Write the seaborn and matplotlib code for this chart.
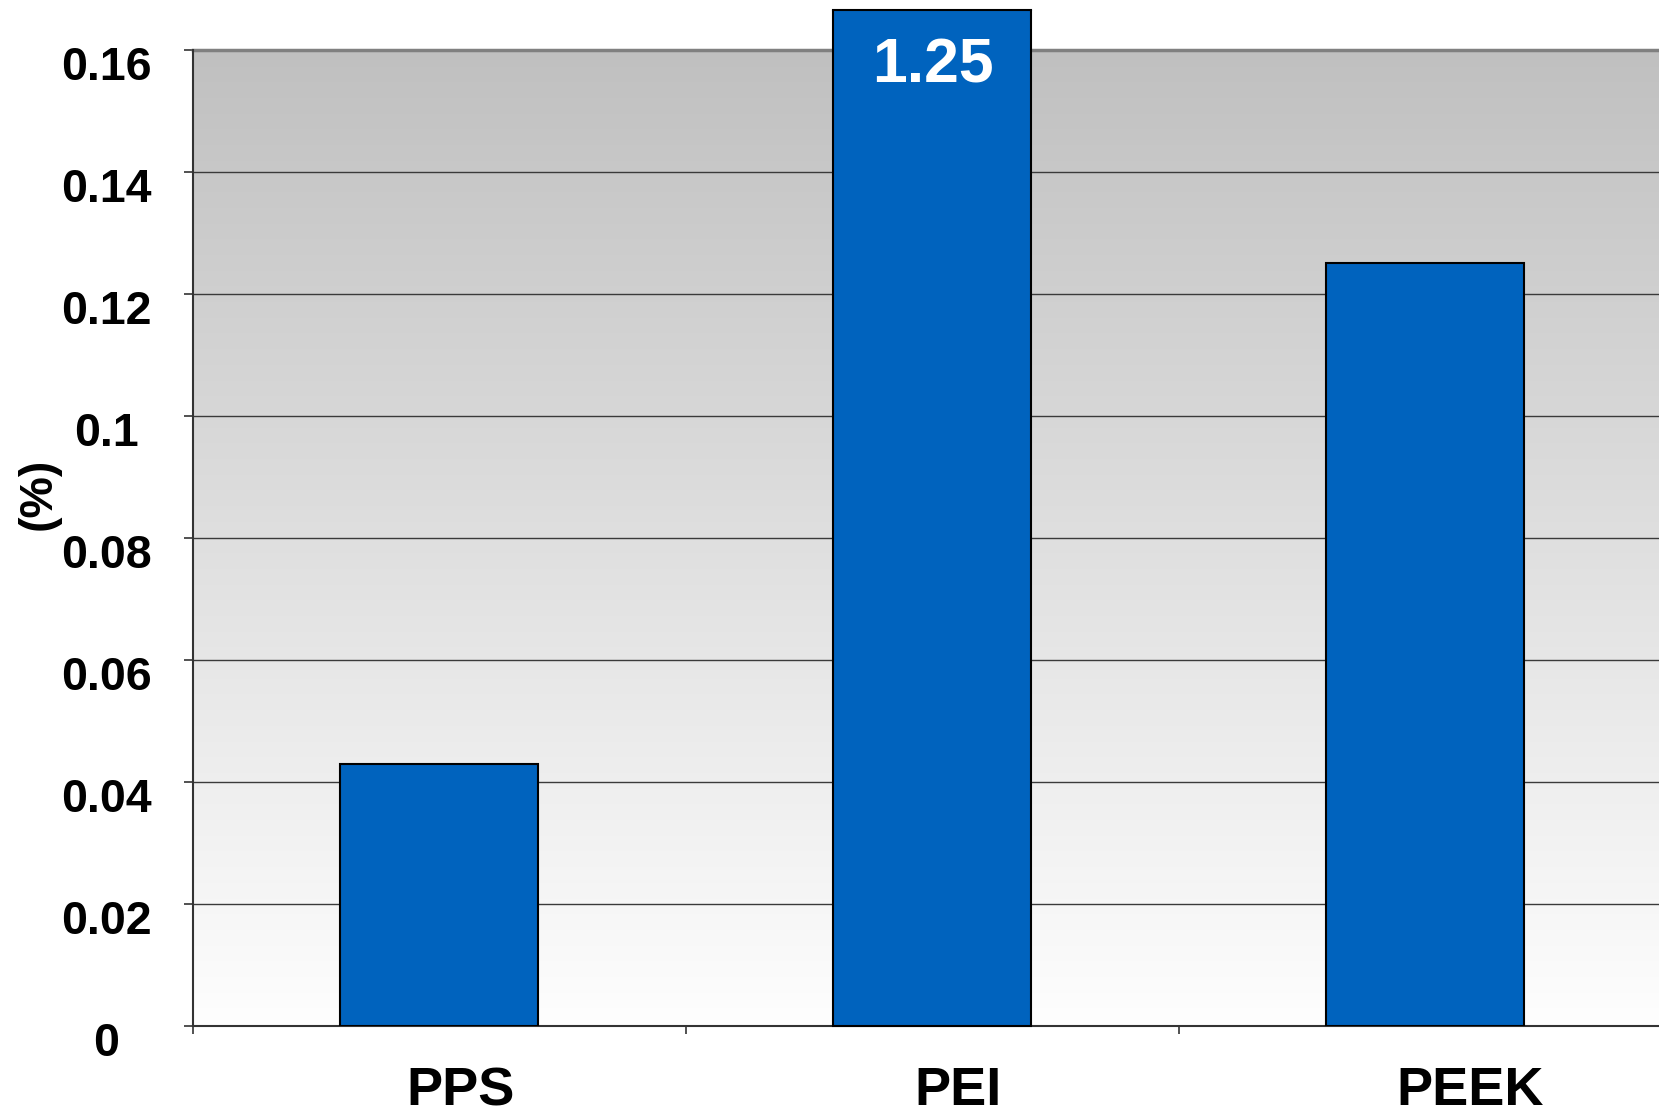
import numpy as np
import matplotlib
matplotlib.use("Agg")
import matplotlib.pyplot as plt
import matplotlib.transforms as mtransforms
import seaborn as sns

# Data
materials = ["PPS", "PEI", "PEEK"]
values = [0.043, 1.25, 0.125]
value_labels = ["", "1.25", ""]
y_ticks = [0, 0.02, 0.04, 0.06, 0.08, 0.1, 0.12, 0.14, 0.16]
y_label = "(%)"

BAR_COLOR = "#0063BE"
FONT = "Liberation Sans"

sns.set_theme(style="white")
plt.rcParams["font.family"] = [FONT, "DejaVu Sans"]
plt.rcParams["font.weight"] = "bold"
for key in ["text.color", "axes.labelcolor", "xtick.labelcolor", "ytick.labelcolor"]:
    plt.rcParams[key] = "black"

DPI = 100
W, H = 1659, 1114
fig = plt.figure(figsize=(W / DPI, H / DPI), dpi=DPI)
fig.patch.set_facecolor("white")

ax_left, ax_bottom = 192.6 / W, (H - 1026) / H
ax_top = (H - 49.7) / H
ax_width = 1479 / W
ax = fig.add_axes([ax_left, ax_bottom, ax_width, ax_top - ax_bottom])

ymax = y_ticks[-1]

# Vertical grey gradient behind the plot area
n = 256
shade = np.linspace(254, 192, n)[:, None] / 255.0
grad = np.repeat(shade[:, :, None], 3, axis=2)
ax.imshow(grad, extent=(-0.5, len(materials) - 0.5, 0, ymax), origin="lower",
          aspect="auto", zorder=0, interpolation="bilinear")

sns.barplot(x=materials, y=values, color=BAR_COLOR, saturation=1, width=0.403,
            edgecolor="black", linewidth=1.5, ax=ax, zorder=3)

ax.set_xlim(-0.5, len(materials) - 0.5)
ax.set_ylim(0, ymax)

# Horizontal gridlines
ax.set_axisbelow(True)
ax.yaxis.grid(True, color="#3a3a3a", linewidth=1.0)
ax.xaxis.grid(False)

# Spines
for side in ["left", "bottom"]:
    ax.spines[side].set_color("#333333")
    ax.spines[side].set_linewidth(1.5)
ax.spines["top"].set_color("#808080")
ax.spines["top"].set_linewidth(2.5)
ax.spines["top"].set_zorder(1)
ax.spines["right"].set_visible(False)

# Y ticks
ax.set_yticks(y_ticks)
ax.set_yticklabels([f"{t:g}" for t in y_ticks], fontsize=33.5, fontweight="bold",
                   fontfamily=FONT, ha="center", color="black")
ax.tick_params(axis="y", which="major", direction="out", length=6.5, width=1.2,
               color="#333333", pad=55.5, left=True)
y_shift = mtransforms.ScaledTranslation(0, -13 / DPI, fig.dpi_scale_trans)
for lab in ax.get_yticklabels():
    lab.set_transform(lab.get_transform() + y_shift)

# X ticks: marks at category boundaries, labels at centers
ax.set_xticks(np.arange(len(materials) + 1) - 0.5)
ax.set_xticklabels([])
ax.set_xticks(np.arange(len(materials)), minor=True)
ax.set_xticklabels(materials, minor=True, fontsize=39, fontweight="bold",
                   fontfamily=FONT, color="black")
ax.tick_params(axis="x", which="major", direction="out", length=6, width=1.2,
               color="#333333", bottom=True)
ax.tick_params(axis="x", which="minor", length=0, pad=29, bottom=True)
x_offsets_px = [21, 26, 45]
for lab, dx in zip(ax.get_xticklabels(minor=True), x_offsets_px):
    lab.set_transform(lab.get_transform() +
                      mtransforms.ScaledTranslation(dx / DPI, 0, fig.dpi_scale_trans))

ax.set_xlabel("")
ax.set_ylabel(y_label, fontsize=33.5, fontweight="bold", fontfamily=FONT,
              va="center", color="black")
ax.yaxis.set_label_coords((39 - 192.6) / 1479, 0.545)

# Bars taller than the axis run up to just below the figure edge
clip_top = 1 - 10 / H
clip_box = mtransforms.TransformedBbox(
    mtransforms.Bbox([[0, 0], [1, clip_top]]), fig.transFigure)
blend = mtransforms.blended_transform_factory(ax.transData, fig.transFigure)
for bar, txt in zip(ax.patches, value_labels):
    if bar.get_height() > ymax:
        bar.set_clip_box(clip_box)
        x0, x1 = bar.get_x(), bar.get_x() + bar.get_width()
        ax.plot([x0, x1], [clip_top, clip_top], transform=blend, color="black",
                linewidth=1.5, clip_on=False, zorder=4, solid_capstyle="projecting")
    if txt:
        ax.annotate(txt, xy=(bar.get_x() + bar.get_width() / 2, 1),
                    xycoords=("data", "axes fraction"),
                    xytext=(1, -16), textcoords="offset pixels",
                    ha="center", va="center", color="white", fontsize=45,
                    fontweight="bold", fontfamily=FONT, zorder=5,
                    annotation_clip=False)

fig.savefig("out.png", dpi=DPI, facecolor="white")
